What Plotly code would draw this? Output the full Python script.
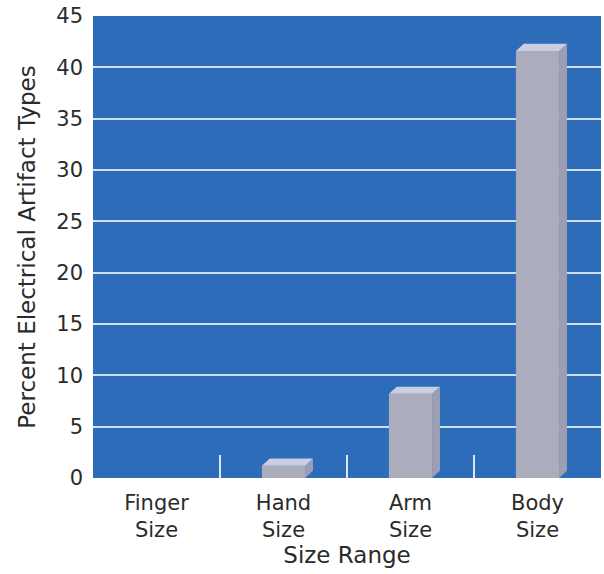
import plotly.graph_objects as go

categories = ["Finger<br>Size", "Hand<br>Size", "Arm<br>Size", "Body<br>Size"]
values = [0, 1.2, 8.2, 41.6]
y_ticks = [0, 5, 10, 15, 20, 25, 30, 35, 40, 45]

BG = "#2d6cb8"
FRONT = "#abadbd"
TOP = "#c9cee2"
SIDE = "#9c9fb3"
TXT = "#2b2b2b"
FONT = "DejaVu Sans"

W = 0.34      # bar width (category units)
DX = 0.062    # depth in x (category units)
DY = 0.70     # depth in y (data units)

xs = list(range(len(categories)))
fig = go.Figure()

for x, v in zip(xs, values):
    if v <= 0:
        continue
    xl, xr = x - W / 2, x + W / 2
    # side face
    fig.add_trace(go.Scatter(
        x=[xr, xr + DX, xr + DX, xr, xr],
        y=[0, DY, v + DY, v, 0],
        fill="toself", fillcolor=SIDE, mode="lines", line=dict(width=0),
        hoverinfo="skip", showlegend=False))
    # top face
    fig.add_trace(go.Scatter(
        x=[xl, xr, xr + DX, xl + DX, xl],
        y=[v, v, v + DY, v + DY, v],
        fill="toself", fillcolor=TOP, mode="lines", line=dict(width=0),
        hoverinfo="skip", showlegend=False))

fig.add_trace(go.Bar(
    x=xs, y=values, width=W, marker=dict(color=FRONT, line=dict(width=0)),
    showlegend=False))

fig.update_layout(
    width=604, height=574,
    margin=dict(l=93, r=3, t=16, b=96),
    paper_bgcolor="white", plot_bgcolor=BG,
    font=dict(family=FONT, size=21, color=TXT),
    xaxis=dict(
        range=[-0.5, 3.5], tickmode="array", tickvals=xs, ticktext=categories,
        ticks="", showgrid=False, zeroline=False, showline=False,
        automargin=False, ticklabelstandoff=10,
        tickfont=dict(size=21, color=TXT),
        title=dict(text="Size Range", font=dict(size=23, color=TXT), standoff=4),
        minor=dict(tickvals=[0.5, 1.5, 2.5], ticks="inside", ticklen=23,
                   tickcolor="#d9e8f8", tickwidth=1.5, showgrid=False),
    ),
    yaxis=dict(
        range=[0, 45], tickmode="array", tickvals=y_ticks,
        ticks="", showgrid=True, gridcolor="#cfe2f5", gridwidth=1.5,
        zeroline=False, showline=False, ticklabelstandoff=9,
        automargin=False, ticklabeloverflow="allow",
        tickfont=dict(size=21, color=TXT),
        title=dict(text="Percent Electrical Artifact Types",
                   font=dict(size=23, color=TXT), standoff=14),
    ),
)

fig.write_html(
    "out.html",
    config={"displayModeBar": False},
    post_script="document.body.style.margin='0';document.body.style.overflow='hidden';",
)
